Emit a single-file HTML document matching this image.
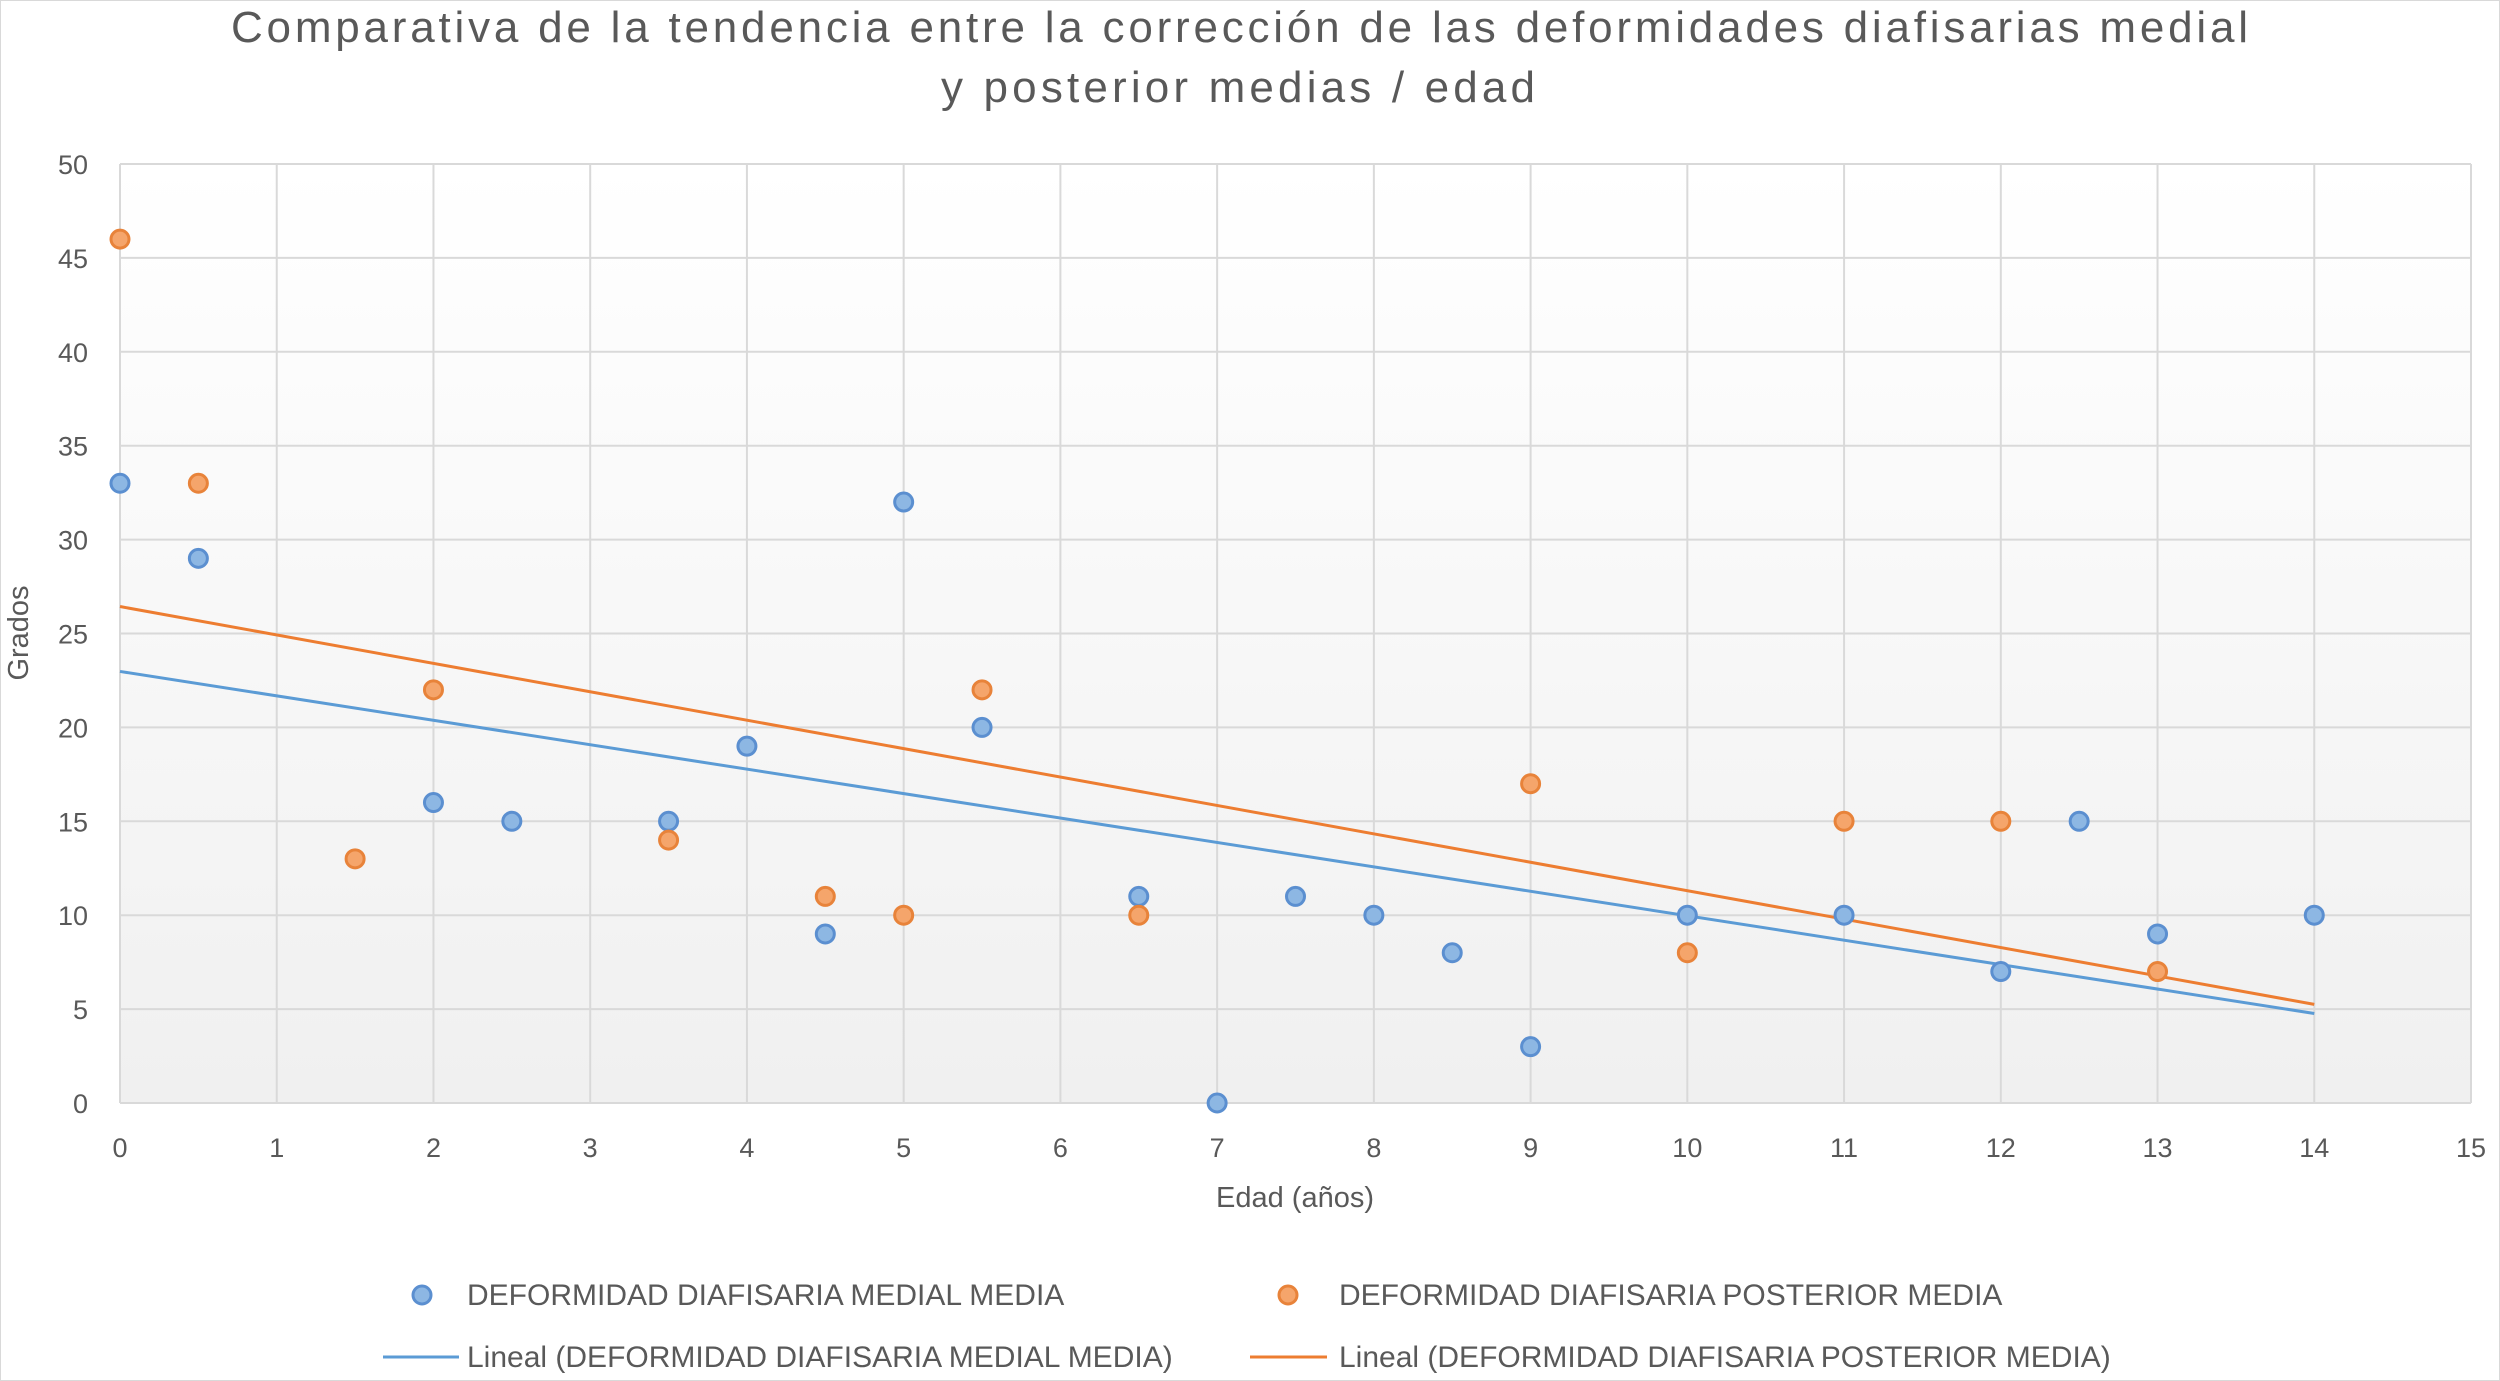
<!DOCTYPE html>
<html><head><meta charset="utf-8"><style>
body{margin:0;background:#fff;}
svg{display:block;font-family:"Liberation Sans",sans-serif;}
</style></head><body>
<svg id="chart" width="2500" height="1381" viewBox="0 0 2500 1381">
<defs><linearGradient id="bg" x1="0" y1="0" x2="0" y2="1"><stop offset="0" stop-color="#ffffff"/><stop offset="1" stop-color="#f0f0f0"/></linearGradient></defs>
<rect x="0" y="0" width="2500" height="1381" fill="#fff" stroke="#d9d9d9" stroke-width="2"/>
<text x="231" y="42" textLength="2017" lengthAdjust="spacing" font-size="44" fill="#595959">Comparativa de la tendencia entre la corrección de las deformidades diafisarias medial</text>
<text x="941" y="102" textLength="594" lengthAdjust="spacing" font-size="44" fill="#595959">y posterior medias / edad</text>
<rect x="120" y="164" width="2351" height="939" fill="url(#bg)"/>
<g id="grid"></g><g id="axes"></g><g id="trends"></g><g id="points"></g>
<text x="1295" y="1207" text-anchor="middle" font-size="29" fill="#595959">Edad (años)</text>
<text transform="translate(28,633) rotate(-90)" text-anchor="middle" font-size="29" fill="#595959">Grados</text>
<g font-size="30" fill="#595959">
<g><circle cx="422" cy="1295" r="9" fill="#8db7e3" stroke="#5b8fd0" stroke-width="3"/><text x="467" y="1305">DEFORMIDAD DIAFISARIA MEDIAL MEDIA</text></g>
<g><circle cx="1288" cy="1295" r="9" fill="#f5a56b" stroke="#e8833a" stroke-width="3"/><text x="1339" y="1305">DEFORMIDAD DIAFISARIA POSTERIOR MEDIA</text></g>
<g><line x1="383" y1="1357" x2="459" y2="1357" stroke="#5b9bd5" stroke-width="3"/><text x="467" y="1367">Lineal (DEFORMIDAD DIAFISARIA MEDIAL MEDIA)</text></g>
<g><line x1="1250" y1="1357" x2="1327" y2="1357" stroke="#ed7d31" stroke-width="3"/><text x="1339" y="1367">Lineal (DEFORMIDAD DIAFISARIA POSTERIOR MEDIA)</text></g>
</g>
</svg>
<script>
const xTicks=[0,1,2,3,4,5,6,7,8,9,10,11,12,13,14,15];
const yTicks=[0,5,10,15,20,25,30,35,40,45,50];
const medialX=[0,0.5,2,2.5,3.5,4,4.5,5,5.5,6.5,7,7.5,8,8.5,9,10,11,12,12.5,13,14];
const medialY=[33,29,16,15,15,19,9,32,20,11,0,11,10,8,3,10,10,7,15,9,10];
const posteriorX=[0,0.5,1.5,2,3.5,4.5,5,5.5,6.5,9,10,11,12,13];
const posteriorY=[46,33,13,22,14,11,10,22,10,17,8,15,15,7];
const NS="http://www.w3.org/2000/svg";
const X=v=>120+v*(2471-120)/15, Y=v=>1103-v*(1103-164)/50;
function mk(t,a,p){const e=document.createElementNS(NS,t);for(const k in a)e.setAttribute(k,a[k]);p.appendChild(e);return e;}
const grid=document.getElementById('grid'),axes=document.getElementById('axes');
xTicks.forEach(v=>{const l=mk('line',{x1:X(v),x2:X(v),y1:164,y2:1103,stroke:'#d9d9d9','stroke-width':2},grid);

const t=mk('text',{x:X(v),y:1157,'text-anchor':'middle','font-size':27,fill:'#595959'},axes);t.textContent=v;
});
yTicks.forEach(v=>{const l=mk('line',{x1:120,x2:2471,y1:Y(v),y2:Y(v),stroke:'#d9d9d9','stroke-width':2},grid);

const t=mk('text',{x:88,y:Y(v)+10,'text-anchor':'end','font-size':27,fill:'#595959'},axes);t.textContent=v;
});
function reg(xs,ys){const n=xs.length,mx=xs.reduce((a,b)=>a+b)/n,my=ys.reduce((a,b)=>a+b)/n;let sxy=0,sxx=0;xs.forEach((x,i)=>{sxy+=(x-mx)*(ys[i]-my);sxx+=(x-mx)*(x-mx);});const b=sxy/sxx;return [my-b*mx,b];}
const tr=document.getElementById('trends');
const allX=medialX.concat(posteriorX);
const xMin=Math.min(...allX),xMax=Math.max(...allX);
[[medialX,medialY,'#5b9bd5','trendline-medial'],[posteriorX,posteriorY,'#ed7d31','trendline-posterior']].forEach(([xs,ys,c,n])=>{
const [a,b]=reg(xs,ys);
const l=mk('line',{x1:X(xMin),y1:Y(a+b*xMin),x2:X(xMax),y2:Y(a+b*xMax),stroke:c,'stroke-width':3},tr);
});
const pts=document.getElementById('points');
medialX.forEach((x,i)=>{const c=mk('circle',{cx:X(x),cy:Y(medialY[i]),r:9,fill:'#8db7e3',stroke:'#5b8fd0','stroke-width':3},pts);
});
posteriorX.forEach((x,i)=>{const c=mk('circle',{cx:X(x),cy:Y(posteriorY[i]),r:9,fill:'#f5a56b',stroke:'#e8833a','stroke-width':3},pts);
});
</script>
</body></html>
